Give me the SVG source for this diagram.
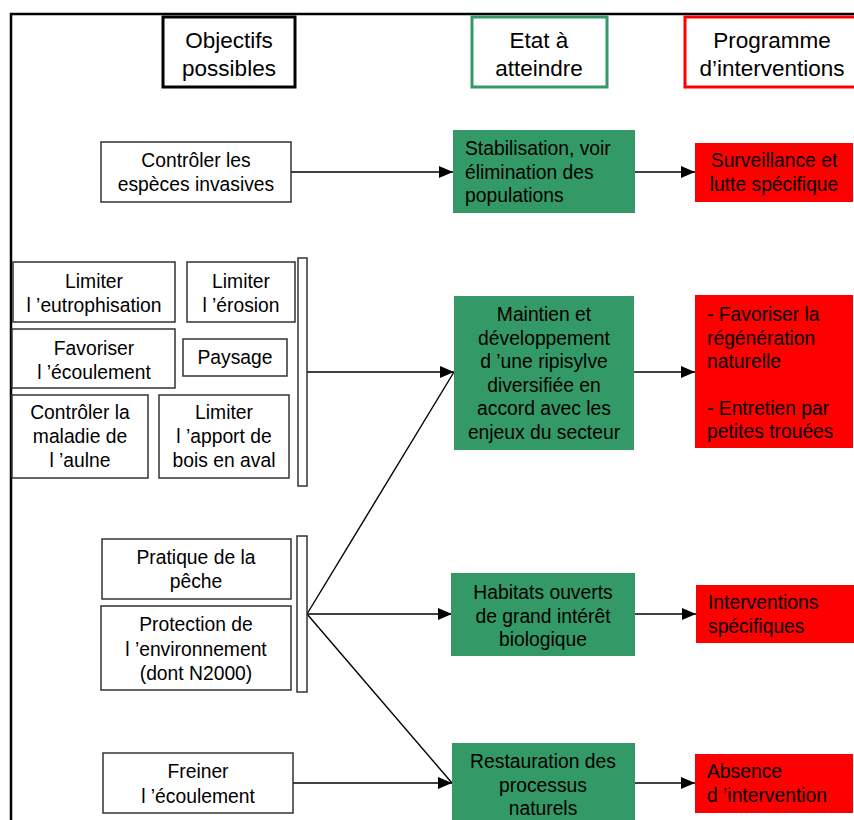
<svg xmlns="http://www.w3.org/2000/svg" width="854" height="820" viewBox="0 0 854 820">
  <style>
    text { font-family: "Liberation Sans", Arial, sans-serif; font-size: 19.3px; fill: #000; }
    .hdr { font-size: 22.5px; }
    .mid { text-anchor: middle; }
    .obj { fill: #fff; stroke: #333; stroke-width: 1.5; }
    .etat { fill: #339966; stroke: none; }
    .prog { fill: #ff0000; stroke: none; }
    .bar { fill: #fff; stroke: #333; stroke-width: 1.5; }
    .link { fill: none; stroke: #000; stroke-width: 1.4; }
    .arrow { marker-end: url(#head); }
  </style>
  <defs>
    <marker id="head" markerUnits="userSpaceOnUse" markerWidth="14" markerHeight="12" refX="14" refY="6" orient="auto">
      <path d="M0,0 L14,6 L0,12 Z" fill="#000"/>
    </marker>
  </defs>

  <rect width="854" height="820" fill="#fff"/>
  <!-- page frame -->
  <path d="M11,820 V14 H854" fill="none" stroke="#000" stroke-width="2.5"/>

  <!-- column headers -->
  <g id="hdr-objectifs">
    <rect x="163" y="17" width="132" height="70" fill="#fff" stroke="#000" stroke-width="3"/>
    <text class="hdr mid" x="229" y="48">Objectifs</text>
    <text class="hdr mid" x="229" y="76">possibles</text>
  </g>
  <g id="hdr-etat">
    <rect x="472" y="17" width="135" height="70" fill="#fff" stroke="#339966" stroke-width="3"/>
    <text class="hdr mid" x="539" y="48">Etat à</text>
    <text class="hdr mid" x="539" y="76">atteindre</text>
  </g>
  <g id="hdr-programme">
    <rect x="685" y="17" width="180" height="70" fill="#fff" stroke="#ff0000" stroke-width="3"/>
    <text class="hdr mid" x="772" y="48">Programme</text>
    <text class="hdr mid" x="772" y="76">d’interventions</text>
  </g>

  <!-- connectors -->
  <g id="connectors">
    <line class="link arrow" x1="291" y1="172" x2="453" y2="172"/>
    <line class="link arrow" x1="635" y1="172" x2="695" y2="172"/>
    <line class="link arrow" x1="307" y1="372" x2="454" y2="372"/>
    <line class="link arrow" x1="634" y1="372" x2="695" y2="372"/>
    <line class="link" x1="307" y1="614" x2="454" y2="372"/>
    <line class="link arrow" x1="307" y1="614" x2="452" y2="614"/>
    <line class="link arrow" x1="635" y1="614" x2="696" y2="614"/>
    <line class="link" x1="307" y1="614" x2="452" y2="783"/>
    <line class="link arrow" x1="293" y1="783" x2="452" y2="783"/>
    <line class="link arrow" x1="635" y1="783" x2="695" y2="783"/>
  </g>

  <!-- objectives -->
  <g id="obj-especes">
    <rect class="obj" x="101" y="142" width="190" height="60"/>
    <text class="mid" x="196" y="167">Contrôler les</text>
    <text class="mid" x="196" y="191">espèces invasives</text>
  </g>
  <g id="obj-eutrophisation">
    <rect class="obj" x="13" y="262" width="162" height="60"/>
    <text class="mid" x="94" y="288">Limiter</text>
    <text class="mid" x="94" y="312">l ’eutrophisation</text>
  </g>
  <g id="obj-erosion">
    <rect class="obj" x="187" y="262" width="108" height="60"/>
    <text class="mid" x="241" y="288">Limiter</text>
    <text class="mid" x="241" y="312">l ’érosion</text>
  </g>
  <g id="obj-ecoulement">
    <rect class="obj" x="12" y="329" width="163" height="59"/>
    <text class="mid" x="94" y="355">Favoriser</text>
    <text class="mid" x="94" y="379">l ’écoulement</text>
  </g>
  <g id="obj-paysage">
    <rect class="obj" x="183" y="339" width="104" height="37"/>
    <text class="mid" x="235" y="364">Paysage</text>
  </g>
  <g id="obj-aulne">
    <rect class="obj" x="12" y="395" width="136" height="83"/>
    <text class="mid" x="80" y="419">Contrôler la</text>
    <text class="mid" x="80" y="443">maladie de</text>
    <text class="mid" x="80" y="467">l ’aulne</text>
  </g>
  <g id="obj-bois">
    <rect class="obj" x="159" y="395" width="130" height="83"/>
    <text class="mid" x="224" y="419">Limiter</text>
    <text class="mid" x="224" y="443">l ’apport de</text>
    <text class="mid" x="224" y="467">bois en aval</text>
  </g>
  <g id="bracket-1">
    <rect class="bar" x="298" y="258" width="9" height="228"/>
  </g>
  <g id="obj-peche">
    <rect class="obj" x="102" y="539" width="189" height="60"/>
    <text class="mid" x="196" y="564">Pratique de la</text>
    <text class="mid" x="196" y="588">pêche</text>
  </g>
  <g id="obj-environnement">
    <rect class="obj" x="101" y="606" width="190" height="84"/>
    <text class="mid" x="196" y="631">Protection de</text>
    <text class="mid" x="196" y="656">l ’environnement</text>
    <text class="mid" x="196" y="680">(dont N2000)</text>
  </g>
  <g id="bracket-2">
    <rect class="bar" x="297" y="536" width="10" height="156"/>
  </g>
  <g id="obj-freiner">
    <rect class="obj" x="103" y="753" width="190" height="60"/>
    <text class="mid" x="198" y="778">Freiner</text>
    <text class="mid" x="198" y="803">l ’écoulement</text>
  </g>

  <!-- states to reach -->
  <g id="etat-stabilisation">
    <rect class="etat" x="453" y="130" width="182" height="83"/>
    <text x="465" y="155">Stabilisation, voir</text>
    <text x="465" y="179">élimination des</text>
    <text x="465" y="202">populations</text>
  </g>
  <g id="etat-ripisylve">
    <rect class="etat" x="454" y="296" width="180" height="154"/>
    <text class="mid" x="544" y="321">Maintien et</text>
    <text class="mid" x="544" y="344.5">développement</text>
    <text class="mid" x="544" y="368">d ’une ripisylve</text>
    <text class="mid" x="544" y="391.5">diversifiée en</text>
    <text class="mid" x="544" y="415">accord avec les</text>
    <text class="mid" x="544" y="438.5">enjeux du secteur</text>
  </g>
  <g id="etat-habitats">
    <rect class="etat" x="451" y="573" width="184" height="83"/>
    <text class="mid" x="543" y="599">Habitats ouverts</text>
    <text class="mid" x="543" y="623">de grand intérêt</text>
    <text class="mid" x="543" y="646">biologique</text>
  </g>
  <g id="etat-restauration">
    <rect class="etat" x="452" y="743" width="183" height="80"/>
    <text class="mid" x="543" y="768">Restauration des</text>
    <text class="mid" x="543" y="792">processus</text>
    <text class="mid" x="543" y="815">naturels</text>
  </g>

  <!-- intervention programme -->
  <g id="prog-surveillance">
    <rect class="prog" x="695" y="143" width="158" height="59"/>
    <text class="mid" x="774" y="167">Surveillance et</text>
    <text class="mid" x="774" y="191">lutte spécifique</text>
  </g>
  <g id="prog-regeneration">
    <rect class="prog" x="695" y="295" width="158" height="153"/>
    <text x="707" y="321">- Favoriser la</text>
    <text x="707" y="345">régénération</text>
    <text x="707" y="368">naturelle</text>
    <text x="707" y="415">- Entretien par</text>
    <text x="707" y="438">petites trouées</text>
  </g>
  <g id="prog-specifiques">
    <rect class="prog" x="696" y="585" width="158" height="58"/>
    <text x="708" y="609">Interventions</text>
    <text x="708" y="633">spécifiques</text>
  </g>
  <g id="prog-absence">
    <rect class="prog" x="695" y="754" width="158" height="59"/>
    <text x="707" y="778">Absence</text>
    <text x="707" y="802">d ’intervention</text>
  </g>
</svg>
